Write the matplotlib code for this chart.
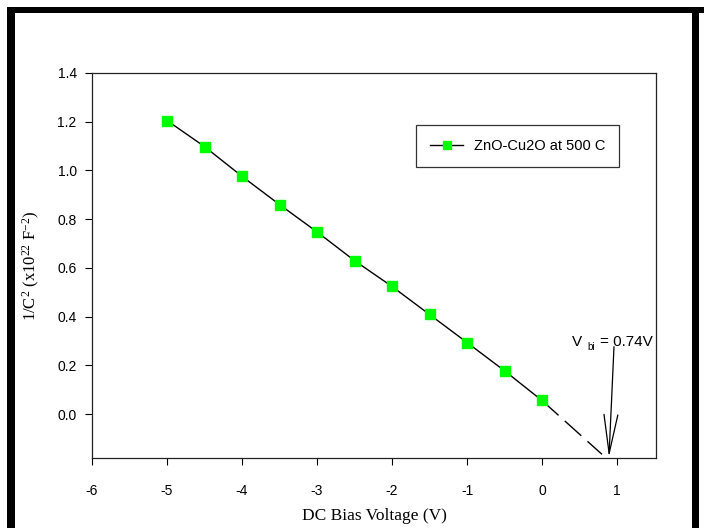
import matplotlib
matplotlib.use("Agg")
import matplotlib.pyplot as plt
from matplotlib.patches import Rectangle

# data
bias = [-5.0, -4.5, -4.0, -3.5, -3.0, -2.5, -2.0, -1.5, -1.0, -0.5, 0.0]
inv_c2 = [1.205, 1.098, 0.976, 0.860, 0.748, 0.630, 0.524, 0.409, 0.294, 0.178, 0.056]
extrap_x = [0.0, 0.80]
extrap_y = [0.056, -0.165]
arrow_from = (0.96, 0.277)
arrow_to = (0.893, -0.176)
xticks = [-6, -5, -4, -3, -2, -1, 0, 1]
yticks = [0.0, 0.2, 0.4, 0.6, 0.8, 1.0, 1.2, 1.4]

plt.rcParams['axes.unicode_minus'] = False
plt.rcParams['mathtext.fontset'] = 'custom'
plt.rcParams['mathtext.rm'] = 'Liberation Serif'
plt.rcParams['mathtext.it'] = 'Liberation Serif:italic'

W, H = 704, 528
fig = plt.figure(figsize=(W / 100, H / 100), dpi=100)
ax = fig.add_axes([92 / W, (H - 458) / H, (656 - 92) / W, (458 - 73) / H])

ax.plot(bias, inv_c2, color='black', lw=1.0, marker='s', markersize=6.8,
        markerfacecolor='#00ff00', markeredgecolor='#00ff00',
        label='ZnO-Cu2O at 500 C', zorder=3)
ax.plot(extrap_x, extrap_y, color='black', lw=1.0, dashes=(16, 6), zorder=2)

ax.annotate('', xy=arrow_to, xytext=arrow_from,
            arrowprops=dict(arrowstyle='->,head_length=2.8,head_width=0.5',
                            mutation_scale=10, lw=0.9, color='black',
                            shrinkA=0, shrinkB=0))
ax.text(0.396, 0.28, 'V', fontsize=11, family='Liberation Sans', ha='left', va='baseline')
ax.text(0.60, 0.264, 'bi', fontsize=7, family='Liberation Sans', ha='left', va='baseline')
ax.text(0.77, 0.28, '= 0.74V', fontsize=11, family='Liberation Sans', ha='left', va='baseline')

ax.set_xlim(-6, 1.52)
ax.set_ylim(-0.18, 1.4)
ax.set_xticks(xticks)
ax.set_xticklabels([str(t) for t in xticks])
ax.set_yticks(yticks)
ax.set_yticklabels(['%.1f' % t for t in yticks])
ax.tick_params(direction='out', length=5, width=0.8, top=False, right=False)
ax.tick_params(axis='x', pad=14)
ax.tick_params(axis='y', pad=6)
for lab in ax.get_xticklabels() + ax.get_yticklabels():
    lab.set_fontfamily('Liberation Sans')
    lab.set_fontsize(10)
for sp in ax.spines.values():
    sp.set_linewidth(0.9)
    sp.set_color('#222222')

ax.set_xlabel('DC Bias Voltage (V)', fontsize=12.5, family='Liberation Serif')
ax.xaxis.set_label_coords(0.5, (458 - 508) / 385)
ax.set_ylabel(r'1/C$^2$ (x10$^{22}$ F$^{-2}$)', fontsize=12, family='Liberation Serif')
ax.yaxis.set_label_coords((42 - 92) / 564, 0.5)

leg = ax.legend(loc='upper left', bbox_to_anchor=((416 - 92) / 564, (458 - 125) / 385),
                borderaxespad=0, frameon=True, fancybox=False, shadow=False,
                handlelength=2.3, handletextpad=0.7, borderpad=0.95,
                prop={'family': 'Liberation Sans', 'size': 10.5}, markerscale=0.85)
leg.get_frame().set_edgecolor('black')
leg.get_frame().set_linewidth(0.9)

# thick black frame around the picture
fig.add_artist(Rectangle((7 / W, (H - 13) / H), 1 - 7 / W, 6 / H,
                         transform=fig.transFigure, color='black', lw=0))
fig.add_artist(Rectangle((7 / W, 0), 7.5 / W, (H - 7) / H,
                         transform=fig.transFigure, color='black', lw=0))
fig.add_artist(Rectangle((692 / W, 0), 7 / W, (H - 7) / H,
                         transform=fig.transFigure, color='black', lw=0))

fig.savefig('out.png', dpi=100)
